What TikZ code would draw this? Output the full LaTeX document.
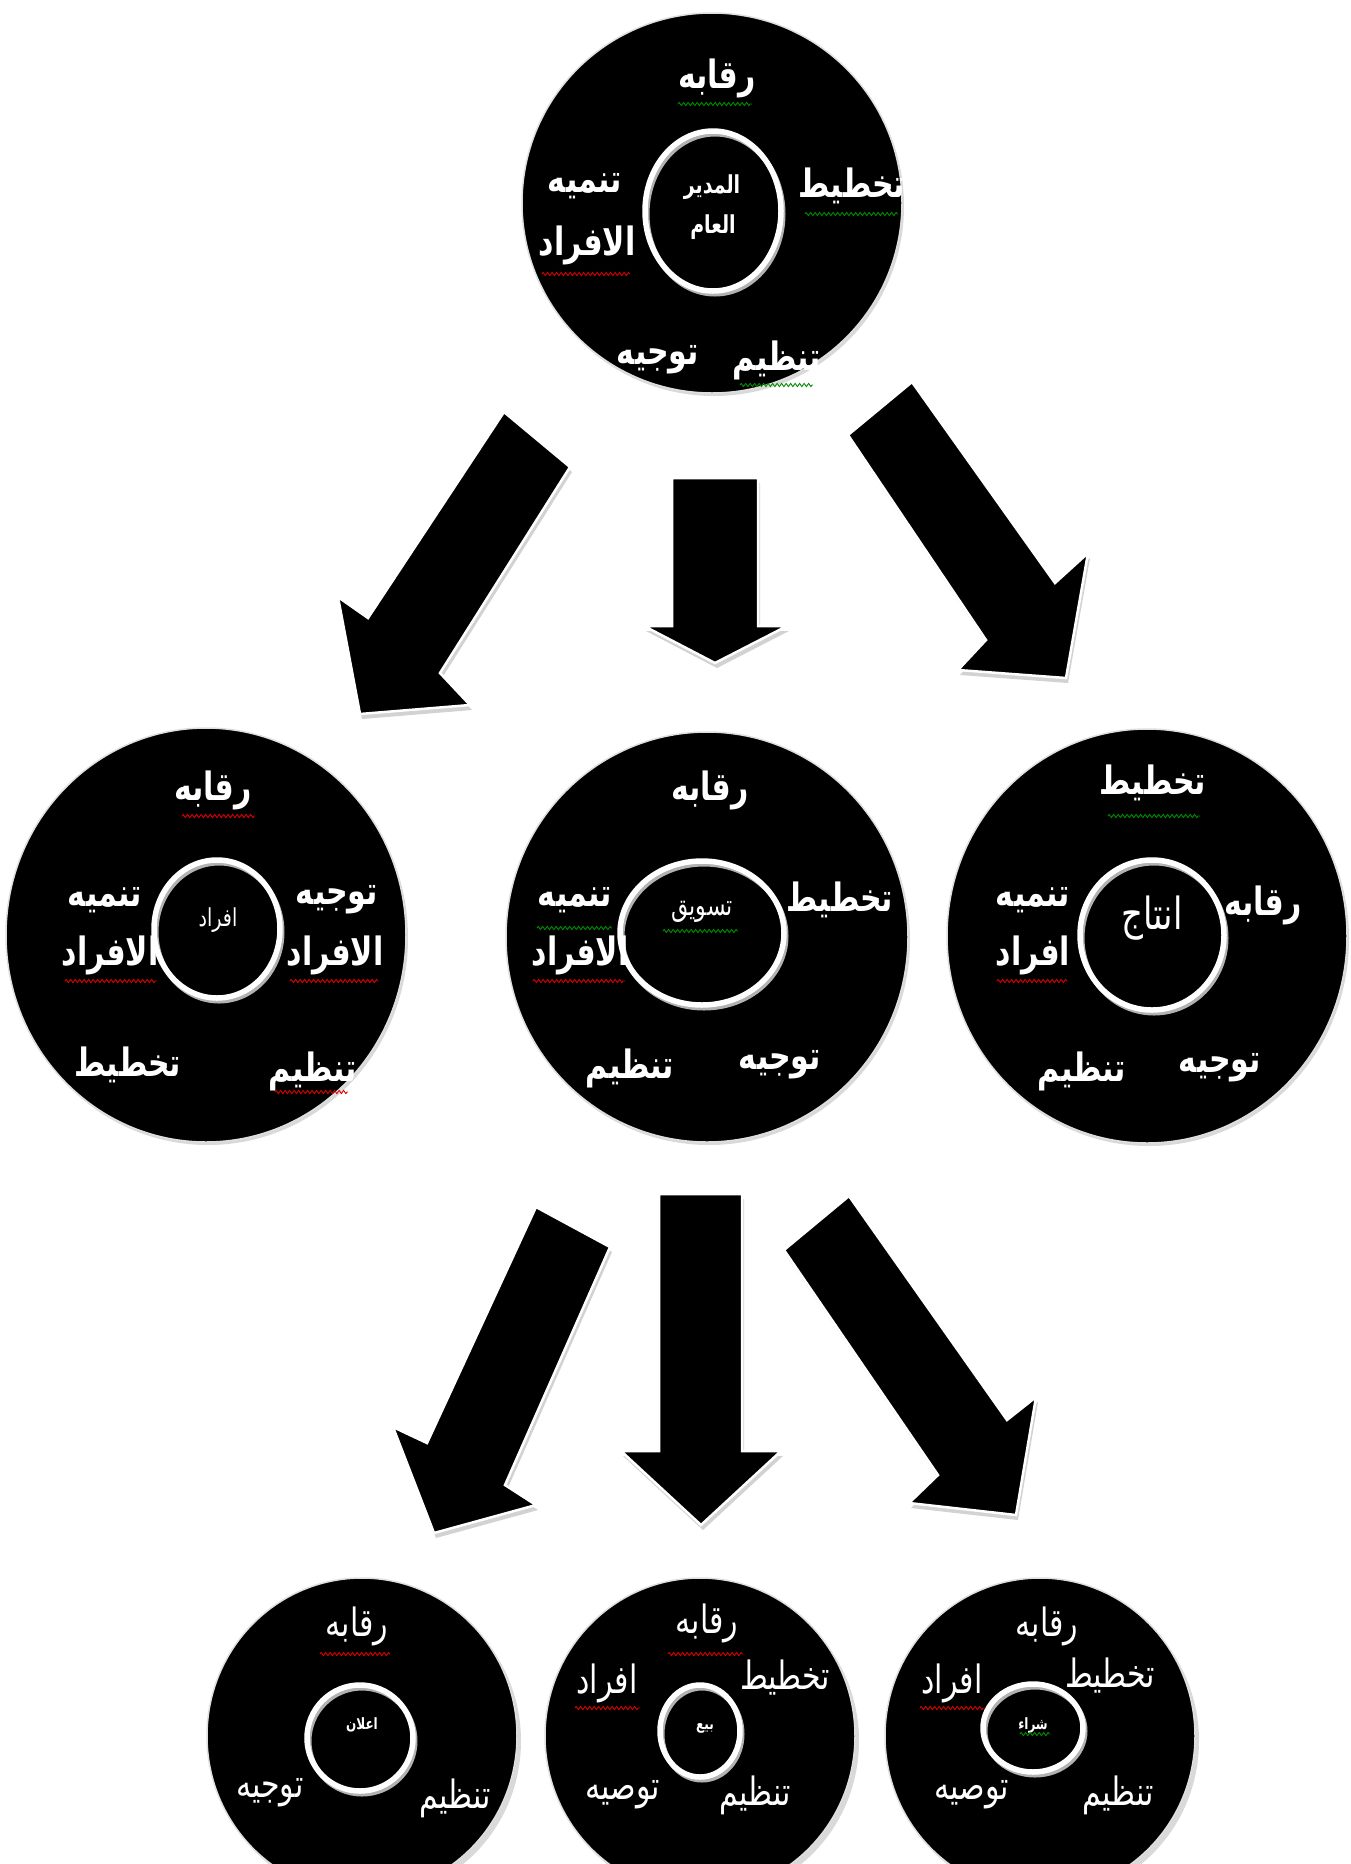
\documentclass[tikz,border=0pt]{standalone}
\usepackage{fontspec}
\usetikzlibrary{shapes.geometric,decorations.pathmorphing}
\TeXXeTstate=1
\newfontfamily\arabicfont[Script=Arabic]{DejaVu Sans}
\newcommand{\rtl}[1]{\scalebox{1}[1.3]{\beginR #1\endR}}
\tikzset{
  disc/.style={ellipse, fill=black, draw=gray!25, line width=1.5pt, inner sep=0pt},
  discshadow/.style={ellipse, fill=gray!30, inner sep=0pt},
  ring/.style={ellipse, draw=white, line width=5.5pt, inner sep=0pt},
  ringshadow/.style={ellipse, draw=gray!60, line width=5pt, inner sep=0pt},
  boldlbl/.style={text=white, inner sep=0pt, font=\arabicfont\bfseries\fontsize{30}{34}\selectfont},
  plainlbl/.style={text=white, inner sep=0pt, font=\arabicfont\fontsize{30}{34}\selectfont},
  centerlbl/.style={text=white, inner sep=0pt, font=\arabicfont\bfseries\fontsize{19}{22}\selectfont},
  tinylbl/.style={text=white, inner sep=0pt, font=\arabicfont\bfseries\fontsize{12}{14}\selectfont},
  blockarrow/.style={fill=black, draw=white, line width=2.5pt, line join=miter},
  arrowshadow/.style={fill=gray!35},
  sqred/.style={draw=red!85!black, line width=0.9pt, decorate, decoration={zigzag, segment length=4.5pt, amplitude=1.6pt}},
  sqgreen/.style={draw=green!55!black, line width=0.9pt, decorate, decoration={zigzag, segment length=4.5pt, amplitude=1.6pt}},
  arrTL/.style={insert path={(504,412) -- (570,467) -- (440,673) -- (470,705) -- (360,714) -- (338,597) -- (368,618) -- cycle}},
  arrTM/.style={insert path={(672,478) -- (758,478) -- (758,626) -- (787,626) -- (715,663) -- (644,626) -- (672,626) -- cycle}},
  arrTR/.style={insert path={(912,382) -- (1055,583) -- (1088,553) -- (1066,678) -- (958,670) -- (986,640) -- (848,435) -- cycle}},
  arrBL/.style={insert path={(536,1207) -- (610,1247) -- (505,1485) -- (536,1505) -- (434,1533) -- (393,1427) -- (427,1443) -- cycle}},
  arrBM/.style={insert path={(659,1194) -- (742,1194) -- (742,1451) -- (781,1451) -- (701,1525) -- (621,1451) -- (659,1451) -- cycle}},
  arrBR/.style={insert path={(849,1196) -- (1007,1420) -- (1036,1397) -- (1016,1515) -- (909,1503) -- (938,1475) -- (784,1250) -- cycle}}
}
\begin{document}
\begin{tikzpicture}[x=1pt,y=-1pt]
\useasboundingbox (0,0) rectangle (1350,1864);
\clip (0,0) rectangle (1350,1864);
\fill[white] (0,0) rectangle (1350,1864);

% ---------- arrows ----------
\foreach \a in {arrTL,arrTM,arrTR,arrBL,arrBM,arrBR}{
  \path[arrowshadow, shift={(2,5)}, \a];
  \path[blockarrow, \a];
}

% ---------- top disc ----------
\node[discshadow, minimum width=380pt, minimum height=380pt] (topS) at (714,206) {};
\node[disc, minimum width=380pt, minimum height=380pt] (top) at (712,203) {};
\node[ringshadow, minimum width=136pt, minimum height=160pt] (topRS) at (715,214) {};
\node[ring, minimum width=136pt, minimum height=160pt] (topR) at (713,211) {};
\node[centerlbl] (topC1) at (712,187) {\rtl{المدير}};
\node[centerlbl] (topC2) at (713,227) {\rtl{العام}};
\node[boldlbl] (topA) at (717,78) {\rtl{رقابه}};
\node[boldlbl] (topB) at (852,186) {\rtl{تخطيط}};
\node[boldlbl] (topC) at (585,186) {\rtl{تنميه}};
\node[boldlbl] (topD) at (587,245) {\rtl{الافراد}};
\node[boldlbl] (topE) at (777,360) {\rtl{تنظيم}};
\node[boldlbl] (topF) at (658,360) {\rtl{توجيه}};
\draw[sqgreen] (678,104) -- (752,104);
\draw[sqgreen] (805,214) -- (898,214);
\draw[sqred] (542,274) -- (630,274);
\draw[sqgreen] (740,385) -- (813,385);

% ---------- middle left disc ----------
\node[discshadow, minimum width=400pt, minimum height=414pt] (mlS) at (208,938) {};
\node[disc, minimum width=400pt, minimum height=414pt] (ml) at (206,935) {};
\node[ringshadow, minimum width=126pt, minimum height=138pt] (mlRS) at (219,932) {};
\node[ring, minimum width=126pt, minimum height=138pt] (mlR) at (217,929) {};
\node[centerlbl, font=\arabicfont\fontsize{19}{22}\selectfont] (mlC) at (218,920) {\rtl{افراد}};
\node[boldlbl] (mlA) at (213,790) {\rtl{رقابه}};
\node[boldlbl] (mlB) at (337,900) {\rtl{توجيه}};
\node[boldlbl] (mlB2) at (335,955) {\rtl{الافراد}};
\node[boldlbl] (mlD) at (105,900) {\rtl{تنميه}};
\node[boldlbl] (mlD2) at (110,955) {\rtl{الافراد}};
\node[boldlbl] (mlE) at (128,1065) {\rtl{تخطيط}};
\node[boldlbl] (mlF) at (313,1071) {\rtl{تنظيم}};
\draw[sqred] (182,816) -- (255,816);
\draw[sqred] (65,981) -- (157,981);
\draw[sqred] (290,981) -- (378,981);
\draw[sqred] (275,1092) -- (348,1092);

% ---------- middle centre disc ----------
\node[discshadow, minimum width=402pt, minimum height=410pt] (mmS) at (709,940) {};
\node[disc, minimum width=402pt, minimum height=410pt] (mm) at (707,937) {};
\node[ringshadow, minimum width=164pt, minimum height=144pt] (mmRS) at (704,936) {};
\node[ring, minimum width=164pt, minimum height=144pt] (mmR) at (702,933) {};
\node[centerlbl, font=\arabicfont\fontsize{22}{24}\selectfont] (mmC) at (702,912) {\rtl{تسويق}};
\node[boldlbl] (mmA) at (710,790) {\rtl{رقابه}};
\node[boldlbl] (mmB) at (840,900) {\rtl{تخطيط}};
\node[boldlbl] (mmD) at (575,900) {\rtl{تنميه}};
\node[boldlbl] (mmD2) at (580,955) {\rtl{الافراد}};
\node[boldlbl] (mmE) at (630,1068) {\rtl{تنظيم}};
\node[boldlbl] (mmF) at (780,1065) {\rtl{توجيه}};
\draw[sqgreen] (537,928) -- (612,928);
\draw[sqred] (533,981) -- (625,981);
\draw[sqgreen] (663,931) -- (738,931);

% ---------- middle right disc ----------
\node[discshadow, minimum width=400pt, minimum height=414pt] (mrS) at (1149,939) {};
\node[disc, minimum width=400pt, minimum height=414pt] (mr) at (1147,936) {};
\node[ringshadow, minimum width=144pt, minimum height=150pt] (mrRS) at (1154,938) {};
\node[ring, minimum width=144pt, minimum height=150pt] (mrR) at (1152,935) {};
\node[plainlbl, font=\arabicfont\fontsize{34}{38}\selectfont] (mrC) at (1152,918) {\rtl{انتاج}};
\node[boldlbl] (mrA) at (1153,783) {\rtl{تخطيط}};
\node[boldlbl] (mrB) at (1263,905) {\rtl{رقابه}};
\node[boldlbl] (mrD) at (1033,900) {\rtl{تنميه}};
\node[boldlbl] (mrD2) at (1033,955) {\rtl{افراد}};
\node[boldlbl] (mrE) at (1082,1071) {\rtl{تنظيم}};
\node[boldlbl] (mrF) at (1220,1068) {\rtl{توجيه}};
\draw[sqgreen] (1108,816) -- (1200,816);
\draw[sqred] (997,981) -- (1067,981);

% ---------- bottom left disc ----------
\node[discshadow, minimum width=310pt, minimum height=316pt] (blS) at (366,1741) {};
\node[disc, minimum width=310pt, minimum height=316pt] (bl) at (362,1736) {};
\node[ringshadow, minimum width=106pt, minimum height=106pt] (blRS) at (362,1741) {};
\node[ring, minimum width=106pt, minimum height=106pt] (blR) at (360,1738) {};
\node[tinylbl] (blC) at (362,1725) {\rtl{اعلان}};
\node[plainlbl] (blA) at (357,1626) {\rtl{رقابه}};
\node[plainlbl] (blB) at (270,1793) {\rtl{توجيه}};
\node[plainlbl] (blE) at (455,1798) {\rtl{تنظيم}};
\draw[sqred] (320,1654) -- (390,1654);

% ---------- bottom centre disc ----------
\node[discshadow, minimum width=310pt, minimum height=316pt] (bmS) at (704,1741) {};
\node[disc, minimum width=310pt, minimum height=316pt] (bm) at (700,1736) {};
\node[ringshadow, minimum width=80pt, minimum height=92pt] (bmRS) at (702,1734) {};
\node[ring, minimum width=80pt, minimum height=92pt] (bmR) at (700,1731) {};
\node[tinylbl] (bmC) at (705,1728) {\rtl{بيع}};
\node[plainlbl] (bmA) at (707,1623) {\rtl{رقابه}};
\node[plainlbl] (bmB) at (785,1678) {\rtl{تخطيط}};
\node[plainlbl] (bmD) at (607,1683) {\rtl{افراد}};
\node[plainlbl] (bmF) at (623,1795) {\rtl{توصيه}};
\node[plainlbl] (bmE) at (755,1795) {\rtl{تنظيم}};
\draw[sqred] (668,1654) -- (743,1654);
\draw[sqred] (575,1708) -- (640,1708);

% ---------- bottom right disc ----------
\node[discshadow, minimum width=310pt, minimum height=316pt] (brS) at (1044,1741) {};
\node[disc, minimum width=310pt, minimum height=316pt] (br) at (1040,1736) {};
\node[ringshadow, minimum width=100pt, minimum height=88pt] (brRS) at (1035,1731) {};
\node[ring, minimum width=100pt, minimum height=88pt] (brR) at (1033,1728) {};
\node[tinylbl] (brC) at (1033,1725) {\rtl{شراء}};
\node[plainlbl] (brA) at (1047,1626) {\rtl{رقابه}};
\node[plainlbl] (brB) at (1110,1676) {\rtl{تخطيط}};
\node[plainlbl] (brD) at (952,1683) {\rtl{افراد}};
\node[plainlbl] (brF) at (972,1795) {\rtl{توصيه}};
\node[plainlbl] (brE) at (1118,1795) {\rtl{تنظيم}};
\draw[sqred] (920,1708) -- (985,1708);
\draw[sqgreen] (1020,1734) -- (1050,1734);
\end{tikzpicture}
\end{document}
